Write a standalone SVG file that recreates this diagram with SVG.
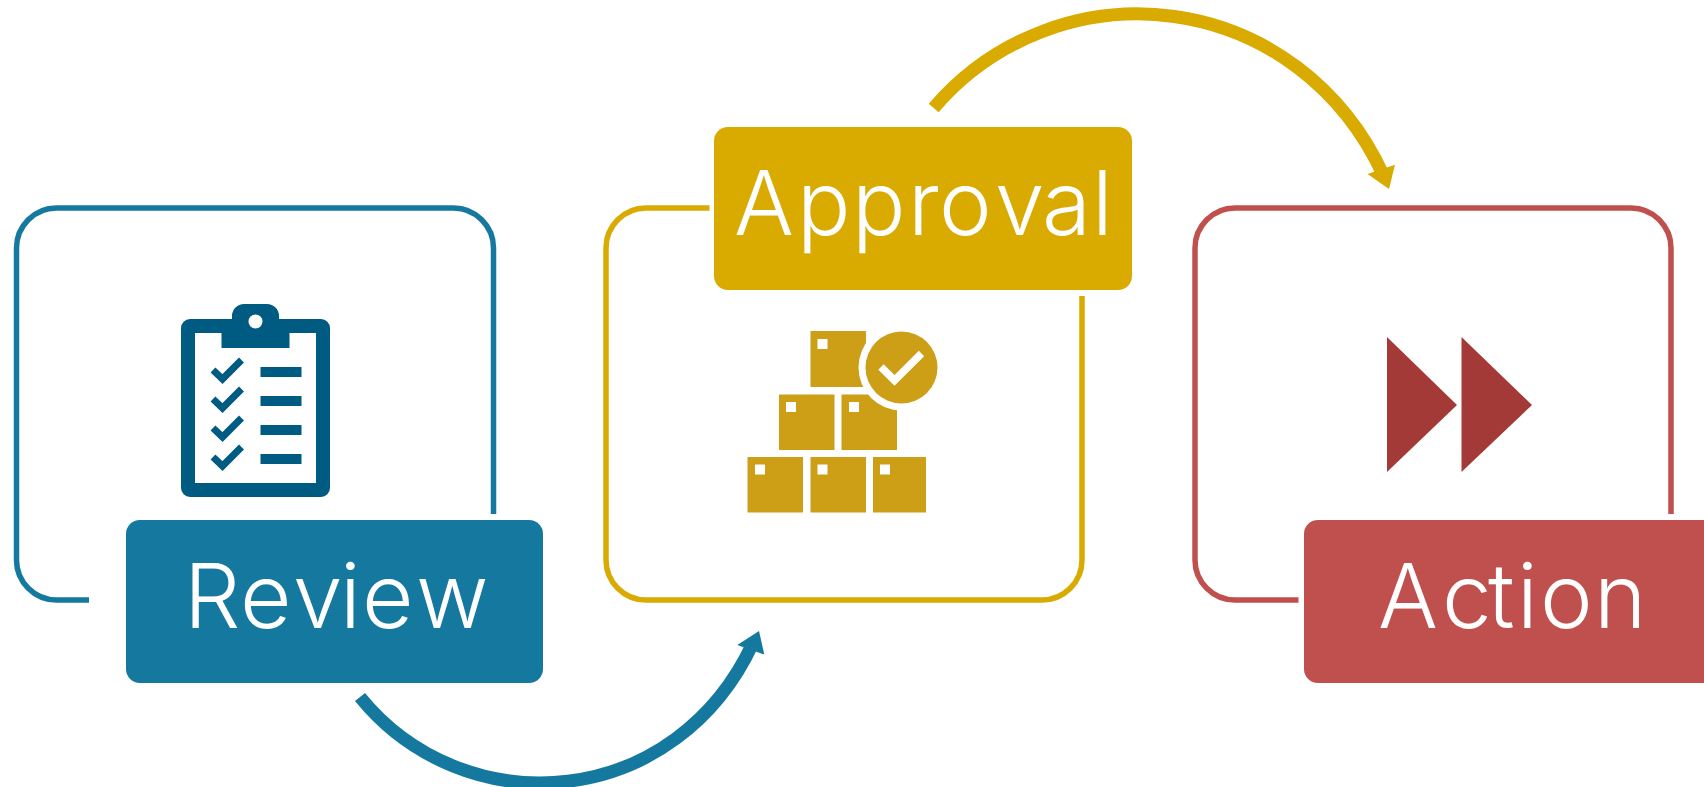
<svg xmlns="http://www.w3.org/2000/svg" width="1704" height="787" viewBox="0 0 1704 787">
<style>
.frame{fill:none;stroke-width:5.500}
.arc{fill:none;stroke-width:13}
.lbl{font-family:"Inter","Lato","Liberation Sans",sans-serif;font-weight:360;font-size:89px;fill:#fff;font-variant-ligatures:none}
.b{fill:#15799f}.y{fill:#d9aa00}.r{fill:#c0504d}
.sb{stroke:#15799f}.sy{stroke:#d9aa00}.sr{stroke:#c0504d}
.ic{fill:#005b82}.ck{fill:none;stroke:#005b82;stroke-width:7}
.bx{fill:#cd9f17}.sq{fill:#fff}
</style>
<rect width="1704" height="787" fill="#fff"/>
<g id="connectors">
<path class="frame sb" d="M493.500 514V248C493.500 226 475.500 208 453.500 208H56.500C34.500 208 16.500 226 16.500 248V560C16.500 582 34.500 600 56.500 600H89"/>
<path class="frame sy" d="M709.500 208H646C624 208 606 226 606 248V560C606 582 624 600 646 600H1042C1064 600 1082 582 1082 560V296"/>
<path class="frame sr" d="M1671 514V248C1671 226 1653 208 1631 208H1235C1213 208 1195 226 1195 248V560C1195 582 1213 600 1235 600H1298.500"/>
<path class="arc sb" d="M360 697C410.200 759 488.700 790.800 567.900 781.300C647.100 771.800 715.900 722.100 752.500 644"/>
<polygon class="b" points="737.300,645 759,631 764.300,654.500"/>
<path class="arc sy" d="M933.700 108C993.100 38.500 1083.800 3.900 1174.300 16.500C1264.800 29.100 1342.800 87 1383.500 175.500"/>
<polygon class="y" points="1367.500,174 1395,164.700 1389,189"/>
</g>
<g id="review">
<rect class="b" x="126" y="520" width="417" height="163" rx="14"/>
<text class="lbl" x="184 240 293 340 362 416" y="627.500">Review</text>
<g id="clipboard">
<path class="ic" fill-rule="evenodd" d="M190 319H232V316A12 12 0 0 1 244 304H267A12 12 0 0 1 279 316V319H321A9 9 0 0 1 330 328V488A9 9 0 0 1 321 497H190A9 9 0 0 1 181 488V328A9 9 0 0 1 190 319ZM195 333V483H316V333H289.500V348H221.500V333Z"/>
<circle cx="255.500" cy="321.500" r="7" fill="#fff"/>
<path class="ck" d="M213 370l9.500 9 19-19M213 399l9.500 9 19-19M213 428l9.500 9 19-19M213 457l9.500 9 19-19"/>
<rect class="ic" x="260.500" y="367" width="41" height="10"/><rect class="ic" x="260.500" y="396" width="41" height="10"/><rect class="ic" x="260.500" y="425" width="41" height="10"/><rect class="ic" x="260.500" y="454" width="41" height="10"/>
</g>
</g>
<g id="approval">
<rect class="y" x="714" y="127" width="418" height="163" rx="14"/>
<text class="lbl" x="734 797 852 908 939 995 1042 1092" y="235">Approval</text>
<g id="boxes">
<rect class="bx" x="810.500" y="331" width="55.500" height="56"/>
<rect class="bx" x="779" y="394.500" width="55.500" height="55.500"/>
<rect class="bx" x="841.500" y="394.500" width="55.500" height="55.500"/>
<rect class="bx" x="747.500" y="457" width="55.500" height="55.500"/>
<rect class="bx" x="810.500" y="457" width="55.500" height="55.500"/>
<rect class="bx" x="873" y="457" width="53" height="55.500"/>
<rect class="sq" x="817.500" y="339" width="10" height="10"/>
<rect class="sq" x="786" y="402" width="10" height="10"/>
<rect class="sq" x="849" y="402" width="10" height="10"/>
<rect class="sq" x="755" y="464.500" width="10" height="10"/>
<rect class="sq" x="817.500" y="464.500" width="10" height="10"/>
<rect class="sq" x="880" y="464.500" width="10" height="10"/>
<circle cx="901.500" cy="367.500" r="43" fill="#fff"/>
<circle class="bx" cx="901.500" cy="367.500" r="36"/>
<path d="M881 367l13.500 13.500 27-27" fill="none" stroke="#fff" stroke-width="7.500"/>
</g>
</g>
<g id="action">
<rect class="r" x="1304" y="520" width="420" height="163" rx="14"/>
<text class="lbl" x="1378 1442 1488 1517 1540 1594" y="627.500">Action</text>
<g id="forward">
<polygon points="1387,337 1457,405 1387,472" fill="#a43a37"/>
<polygon points="1461.500,337 1532,405 1461.500,472" fill="#a43a37"/>
</g>
</g>
</svg>
